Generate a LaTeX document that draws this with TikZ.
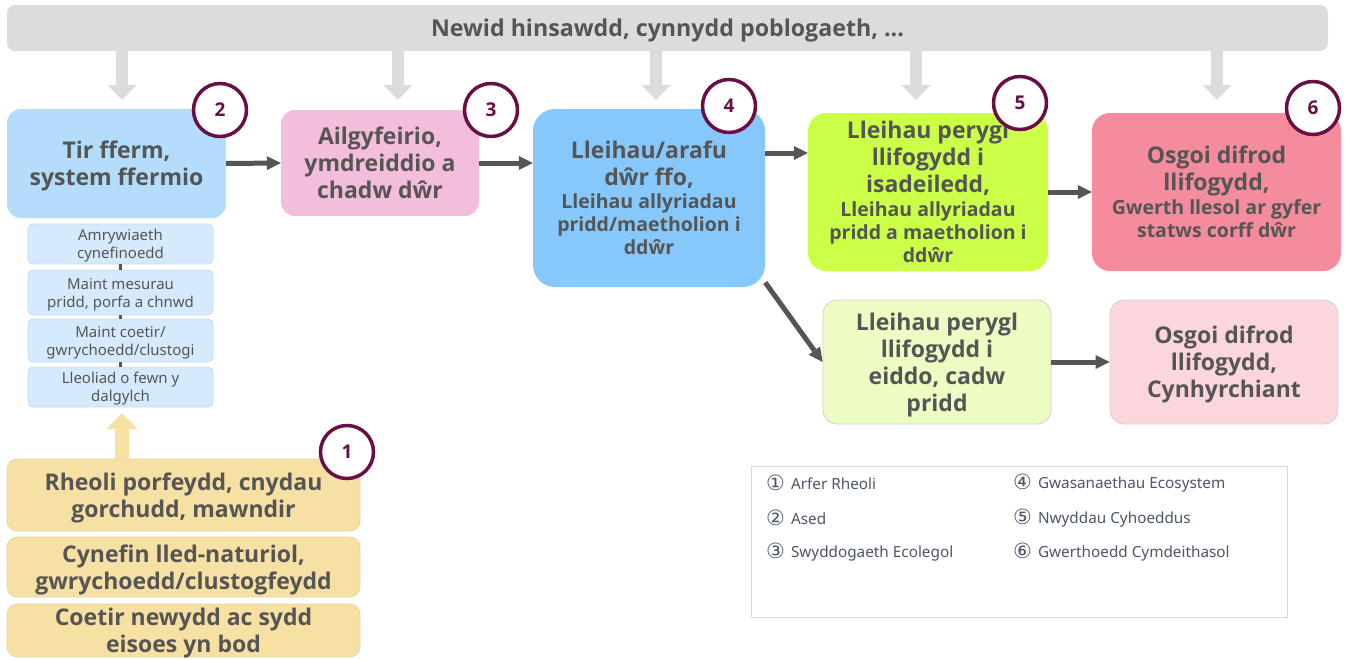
\documentclass[tikz,border=0pt]{standalone}
\usepackage{fontspec}
\setmainfont{Noto Sans}
\newfontfamily\osans{Open Sans}
\newfontfamily\symfont{DejaVu Sans}
\usetikzlibrary{arrows.meta}
\definecolor{txt}{HTML}{555555}
\definecolor{bann}{HTML}{DCDCDC}
\definecolor{cTwo}{HTML}{B4DCFB}
\definecolor{cSmall}{HTML}{D5EBFD}
\definecolor{cSmallB}{HTML}{C3DBEE}
\definecolor{cThree}{HTML}{F2BEDC}
\definecolor{cFour}{HTML}{86C8FC}
\definecolor{cFive}{HTML}{CCFF47}
\definecolor{cSix}{HTML}{F48C9E}
\definecolor{cLowA}{HTML}{ECFCC2}
\definecolor{cLowB}{HTML}{FBD6DD}
\definecolor{cYel}{HTML}{F7E0A3}
\definecolor{purp}{HTML}{6A0F46}
\definecolor{arr}{HTML}{555555}
\definecolor{legt}{HTML}{4D5666}
\definecolor{legb}{HTML}{D9D9D9}
\newcommand\fbig{\osans\fontsize{23}{27}\selectfont\bfseries}
\newcommand\fsml{\osans\fontsize{19.5}{23}\selectfont\bfseries}
\newcommand\cdig[1]{{\symfont\fontsize{21}{21}\selectfont\raisebox{-1.5pt}{#1}}}
\begin{document}
\begin{tikzpicture}[x=1pt,y=-1pt,
  box/.style={rectangle, rounded corners=14pt, inner sep=0pt, align=center, text=txt, font=\fbig, text depth=0pt},
  sbox/.style={rectangle, rounded corners=5pt, inner sep=0pt, align=center, text=txt, fill=cSmall, draw=cSmallB, line width=0.8pt, minimum width=185pt, font=\fontsize{15}{18}\selectfont, text depth=0pt},
  ybox/.style={rectangle, rounded corners=10pt, inner sep=0pt, align=center, text=txt, fill=cYel, draw=cYel!85!gray, line width=0.6pt, minimum width=353pt, font=\fbig, text depth=0pt},
  num/.style={circle, draw=purp, line width=3.5pt, fill=white, minimum size=53pt, inner sep=0pt, text=purp, font=\osans\fontsize{19}{19}\selectfont\bfseries},
  garr/.style={draw=bann, line width=12pt, -{Triangle[length=15pt,width=29pt,line width=0pt]}},
  yarr/.style={draw=cYel, line width=14pt, -{Triangle[length=16pt,width=31pt,line width=0pt]}},
  darr/.style={draw=arr, line width=5pt, -{Triangle[length=14pt,width=14pt,line width=0pt]}},
  link/.style={draw=arr, line width=3.5pt},
  legi/.style={anchor=west, inner sep=0pt, text=legt, font=\fontsize{15.3}{18}\selectfont}
]
\useasboundingbox (0,0) rectangle (1347,659);

% banner
\node[rectangle, rounded corners=8pt, fill=bann, minimum width=1321pt, minimum height=46pt, inner sep=0pt, text=txt, text depth=0pt, font=\osans\fontsize{23.2}{27}\selectfont\bfseries] (banner) at (667.5,28) {Newid hinsawdd, cynnydd poblogaeth, ...};

% main boxes
\node[box, fill=cTwo, minimum width=219pt, minimum height=109pt] (b2) at (116.5,163.5) {Tir fferm,\\system ffermio};
\node[box, fill=cThree, minimum width=198pt, minimum height=106pt] (b3) at (380,163) {Ailgyfeirio,\\ymdreiddio a\\chadw dŵr};
\node[box, fill=cFour, rounded corners=22pt, minimum width=232pt, minimum height=178pt] (b4) at (649,198) {Lleihau/arafu\\dŵr ffo,\\[-4pt]\fsml Lleihau allyriadau\\[-4pt]\fsml pridd/maetholion i\\[-4pt]\fsml ddŵr};
\node[box, fill=cFive, rounded corners=18pt, minimum width=240pt, minimum height=158pt] (b5) at (928,192) {Lleihau perygl\\llifogydd i\\isadeiledd,\\[-3pt]\fsml Lleihau allyriadau\\[-4pt]\fsml pridd a maetholion i\\[-4pt]\fsml ddŵr};
\node[box, fill=cSix, rounded corners=18pt, minimum width=249pt, minimum height=158pt] (b6) at (1216.5,192) {Osgoi difrod\\llifogydd,\\[-3pt]\fsml Gwerth llesol ar gyfer\\[-4pt]\fsml statws corff dŵr};
\node[box, fill=cLowA, draw=black!18, line width=0.8pt, minimum width=228pt, minimum height=124pt] (l1) at (937,362) {Lleihau perygl\\llifogydd i\\eiddo, cadw\\pridd};
\node[box, fill=cLowB, draw=black!18, line width=0.8pt, minimum width=228pt, minimum height=124pt] (l2) at (1224,362) {Osgoi difrod\\llifogydd,\\Cynhyrchiant};

% small asset boxes
\node[sbox, minimum height=40pt] (s1) at (120.5,244) {Amrywiaeth\\cynefinoedd};
\node[sbox, minimum height=45pt] (s2) at (120.5,292.5) {Maint mesurau\\pridd, porfa a chnwd};
\node[sbox, minimum height=43pt] (s3) at (120.5,340.5) {Maint coetir/\\gwrychoedd/clustogi};
\node[sbox, minimum height=40pt] (s4) at (120.5,387) {Lleoliad o fewn y\\dalgylch};
\draw[link] (s1.south) -- (s2.north);
\draw[link] (s2.south) -- (s3.north);
\draw[link] (s3.south) -- (s4.north);

% management boxes
\node[ybox, minimum height=72pt] (y1) at (183.5,495) {Rheoli porfeydd, cnydau\\gorchudd, mawndir};
\node[ybox, minimum height=60pt] (y2) at (183.5,567) {Cynefin lled-naturiol,\\gwrychoedd/clustogfeydd};
\node[ybox, minimum height=53pt] (y3) at (183.5,630.5) {Coetir newydd ac sydd\\eisoes yn bod};

% grey pressure arrows
\coordinate (g1) at (122,100);
\coordinate (g2) at (398,100);
\coordinate (g3) at (656,100);
\coordinate (g4) at (916,100);
\coordinate (g5) at (1217,100);
\draw[garr] (banner.south -| g1) -- (g1);
\draw[garr] (banner.south -| g2) -- (g2);
\draw[garr] (banner.south -| g3) -- (g3);
\draw[garr] (banner.south -| g4) -- (g4);
\draw[garr] (banner.south -| g5) -- (g5);

% yellow arrow
\coordinate (ya) at (122,413);
\draw[yarr] (y1.north -| ya) -- (ya);

% flow arrows
\coordinate (a45) at ([yshift=45pt]b4.east);
\draw[darr] (b2.east) -- (b3.west);
\draw[darr] (b3.east) -- (b3.east -| b4.west);
\draw[darr] (a45) -- (a45 -| b5.west);
\draw[darr] (b5.east) -- (b6.west);
\draw[darr] (b4.-36.5) -- (l1.west);
\draw[darr] (l1.east) -- (l2.west);

% numbered circles
\node[num] (n1) at (347,452) {1};
\node[num] (n2) at (220,110) {2};
\node[num] (n3) at (491,110) {3};
\node[num] (n4) at (729,106) {4};
\node[num] (n5) at (1020,103) {5};
\node[num] (n6) at (1313,108) {6};

% legend
\node[rectangle, draw=legb, line width=1pt, fill=white, minimum width=536pt, minimum height=151pt, inner sep=0pt] (leg) at (1019.5,541.5) {};
\node[legi] (k1) at (766,483) {\cdig{①}\hspace{6pt}Arfer Rheoli};
\node[legi] (k2) at (766,518) {\cdig{②}\hspace{6pt}Ased};
\node[legi] (k3) at (766,552) {\cdig{③}\hspace{6pt}Swyddogaeth Ecolegol};
\node[legi] (k4) at (1013,483) {\cdig{④}\hspace{6pt}Gwasanaethau  Ecosystem};
\node[legi] (k5) at (1013,518) {\cdig{⑤}\hspace{6pt}Nwyddau Cyhoeddus};
\node[legi] (k6) at (1013,552) {\cdig{⑥}\hspace{6pt}Gwerthoedd Cymdeithasol};
\end{tikzpicture}
\end{document}
